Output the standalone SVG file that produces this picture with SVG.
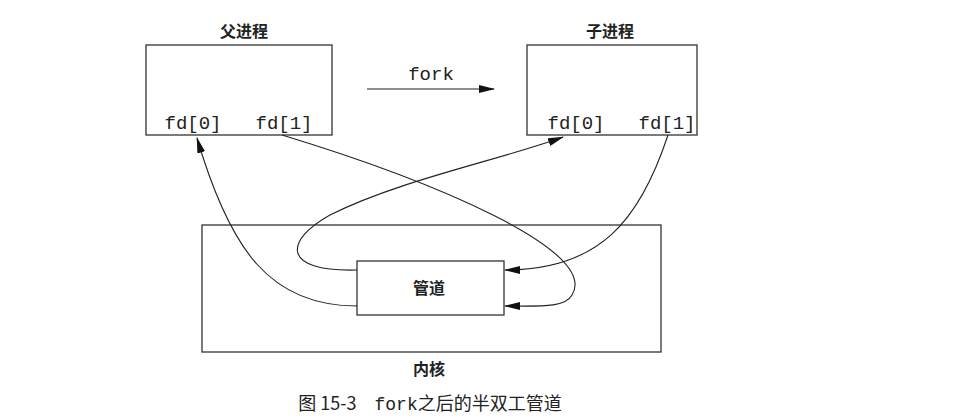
<svg xmlns="http://www.w3.org/2000/svg" width="955" height="419" viewBox="0 0 955 419">
<style>
.b{fill:none;stroke:#333;stroke-width:1.3}
.c{fill:none;stroke:#222;stroke-width:1.1}
.cn{font-family:"Noto Sans CJK SC",sans-serif;font-size:16px;font-weight:bold;fill:#222;text-anchor:middle}
.m{font-family:"Liberation Mono",monospace;font-size:19px;fill:#222;text-anchor:middle}
</style>
<defs><marker id="a" markerWidth="16" markerHeight="8" refX="15" refY="4" orient="auto" markerUnits="userSpaceOnUse"><path d="M0,0L16,4L0,8z" fill="#111"/></marker></defs>
<rect width="955" height="419" fill="#fff"/>
<g id="parent"><rect class="b" x="146" y="45" width="186" height="90"/><text class="cn" x="244" y="37">父进程</text><text class="m" x="193" y="129">fd[0]</text><text class="m" x="284" y="129">fd[1]</text></g>
<g id="child"><rect class="b" x="527" y="45" width="170" height="90"/><text class="cn" x="610" y="37">子进程</text><text class="m" x="576" y="129">fd[0]</text><text class="m" x="667" y="129">fd[1]</text></g>
<g id="kernel"><rect class="b" x="202" y="225" width="459" height="127"/><text class="cn" x="429" y="375">内核</text></g>
<g id="pipe"><rect class="b" x="357" y="261" width="147" height="54"/><text class="cn" x="429" y="294">管道</text></g>
<g id="fork"><text class="m" x="431" y="80">fork</text></g>
<g id="connectors">
<path class="c" d="M367,89H494" marker-end="url(#a)"/>
<path class="c" d="M357,306C270,306 230,250 197,138" marker-end="url(#a)"/>
<path class="c" d="M282,135C430,180 600,250 572,295C565,308 540,306 505,306" marker-end="url(#a)"/>
<path class="c" d="M357,270C280,272 285,240 330,215C400,180 500,160 563,137" marker-end="url(#a)"/>
<path class="c" d="M668,135C640,220 600,270 505,270" marker-end="url(#a)"/>
</g>
<text x="430" y="410" style="font-family:'Noto Sans CJK SC',serif;font-size:18px;fill:#222;text-anchor:middle">图 15-3　<tspan style="font-family:'Liberation Mono',monospace">fork</tspan>之后的半双工管道</text>
</svg>
